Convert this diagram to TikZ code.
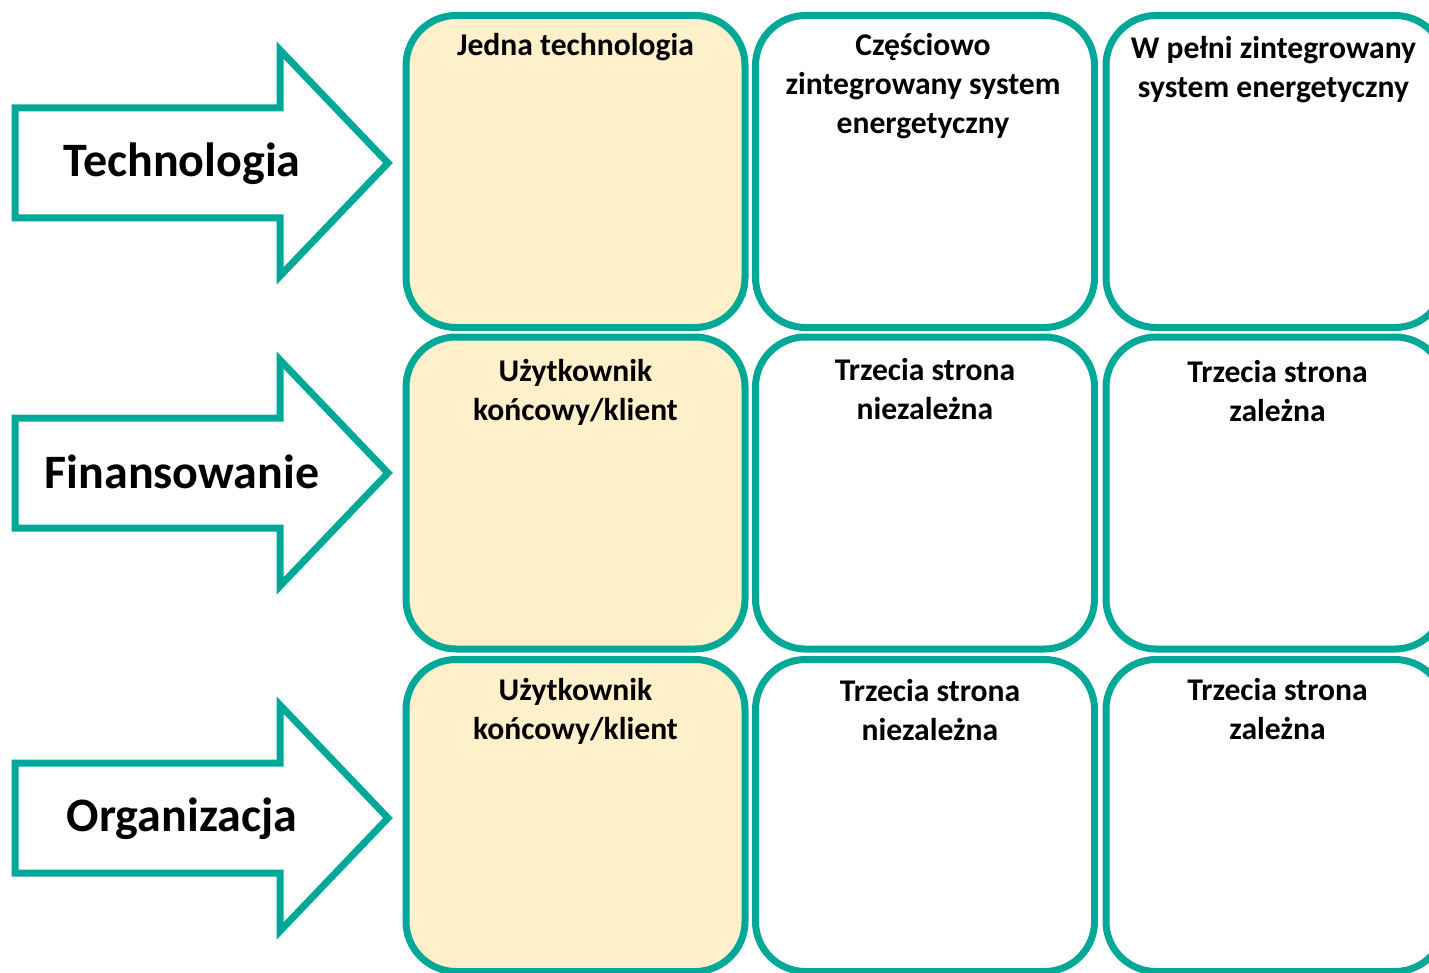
\documentclass[tikz,border=0pt]{standalone}
\usepackage{fontspec}
\setmainfont{Carlito}
\definecolor{teal1}{RGB}{0, 168, 152}
\definecolor{cream1}{RGB}{255, 240, 204}
\usetikzlibrary{positioning}

\tikzset{
  cell/.style={draw=teal1, line width=3.5pt, rounded corners=25pt, minimum width=169.5pt, minimum height=156pt, inner sep=0pt},
  celltext/.style={align=center, inner sep=0pt, font=\fontsize{15.8}{19.5}\selectfont\bfseries},
  bigarrow/.style={draw=teal1, fill=white, line width=3.5pt, line join=miter},
  arrowtext/.style={inner sep=0pt, font=\fontsize{24}{28}\selectfont\bfseries}
}

\begin{document}
\begin{tikzpicture}[x=0.5pt, y=-0.5pt]
  \useasboundingbox (0,0) rectangle (1429,973);
  \clip (0,0) rectangle (1429,973);

  % arrows on the left
  \draw[bigarrow] (15,108) -- (280,108) -- (280,50) -- (388,163) -- (280,276) -- (280,218) -- (15,218) -- cycle;
  \node[arrowtext] (tech) at (182,164) {Technologia};
  \draw[bigarrow] (15,418) -- (280,418) -- (280,360) -- (388,473) -- (280,586) -- (280,528) -- (15,528) -- cycle;
  \node[arrowtext] (fin) at (182,472) {Finansowanie};
  \draw[bigarrow] (15,763) -- (280,763) -- (280,705) -- (388,818) -- (280,931) -- (280,873) -- (15,873) -- cycle;
  \node[arrowtext] (org) at (182,819) {Organizacja};

  % row 1
  \node[cell, fill=cream1] (c11) at (575.5,171.5) {};
  \node[cell] (c12) at (925,171.5) {};
  \node[cell] (c13) at (1275.5,171.5) {};
  \node[celltext, below=10.5pt of c11.north] (t11) {Jedna technologia};
  \node[celltext, below=10.5pt of c12.north, xshift=-1pt] (t12) {Częściowo\\zintegrowany system\\energetyczny};
  \node[celltext, below=12pt of c13.north, xshift=-1pt] (t13) {W pełni zintegrowany\\system energetyczny};

  % row 2
  \node[cell, fill=cream1] (c21) at (575.5,493) {};
  \node[cell] (c22) at (925,493) {};
  \node[cell] (c23) at (1275.5,493) {};
  \node[celltext, below=12.5pt of c21.north] (t21) {Użytkownik\\końcowy/klient};
  \node[celltext, below=12pt of c22.north] (t22) {Trzecia strona\\niezależna};
  \node[celltext, below=13pt of c23.north, xshift=1pt] (t23) {Trzecia strona\\zależna};

  % row 3
  \node[cell, fill=cream1] (c31) at (575.5,815.5) {};
  \node[cell] (c32) at (925,815.5) {};
  \node[cell] (c33) at (1275.5,815.5) {};
  \node[celltext, below=11pt of c31.north] (t31) {Użytkownik\\końcowy/klient};
  \node[celltext, below=11.5pt of c32.north, xshift=2.5pt] (t32) {Trzecia strona\\niezależna};
  \node[celltext, below=11pt of c33.north, xshift=1pt] (t33) {Trzecia strona\\zależna};
\end{tikzpicture}
\end{document}
